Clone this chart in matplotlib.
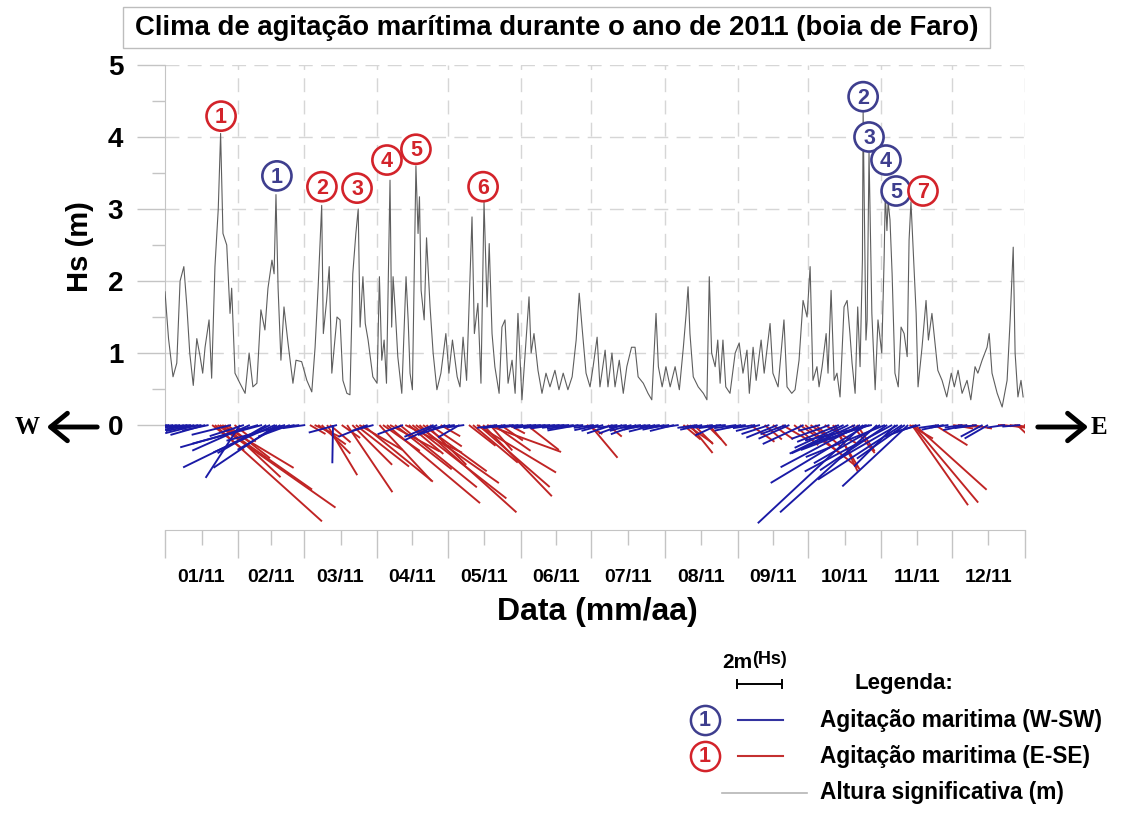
import numpy as np
import matplotlib
matplotlib.use('Agg')
import matplotlib.pyplot as plt
from matplotlib.patches import Rectangle, FancyArrowPatch
from matplotlib.lines import Line2D

plt.rcParams['font.family'] = ['Liberation Sans', 'DejaVu Sans']

# significant wave height (day of year 2011, m)
hs_day = [0, 1.5, 3.4, 5, 6.4, 8, 9.3, 10.5, 12, 13.5, 14.9, 16, 17, 18.7, 19.8, 21.2, 22.6, 23.6, 24.6,
          26.2, 27.6, 28.3, 29.7, 31.8, 34, 35.7, 37.3, 39, 40.7, 42.4, 43.7, 45.4, 46.3, 47.1, 48, 49.2,
          50.5, 52.2, 54.3, 55.6, 58, 60.2, 62.3, 63.7, 65, 66.5, 67.2, 68.6, 69.7, 70.8, 73, 74.3, 75.5,
          77.2, 78.5, 79.7, 81, 82, 82.8, 84, 85, 86.2, 88.2, 90, 91, 92, 93, 94, 95.5, 96.2, 96.8, 97.8,
          98.8, 100.5, 102.3, 103.2, 104, 105, 105.8, 106.5, 107.4, 108.0, 108.7, 110, 111, 112.5, 113.8,
          115.4, 117.1, 119.2, 120.5, 122, 124, 125.2, 126.5, 128, 130.3, 131.3, 132.8, 134.1, 135.4,
          136.7, 137.6, 138.8, 140, 141.8, 143, 144.3, 145.6, 147.3, 148.6, 149.8, 151.5, 153.6, 154.5,
          155.4, 156.6, 158.3, 160, 161.7, 163.4, 165.5, 167.2, 169, 171, 172.8, 174.5, 175.8, 177, 178.7,
          180.4, 181.7, 183.4, 184.6, 186.8, 188, 189.7, 191, 192.8, 194.5, 196, 198, 199.5, 200.8, 203,
          205, 206.6, 208.4, 209.4, 211, 212.6, 214.4, 216.5, 218.3, 220, 221.2, 222, 222.8, 224.2, 226.3,
          228.5, 230, 231, 232, 233.5, 234.6, 235.6, 236.8, 238, 239.8, 242, 243.7, 245.3, 247, 248,
          249.6, 250.9, 253, 254.3, 256.8, 258, 260.2, 262.7, 264, 266, 267.4, 269.1, 270.8, 272.5, 273.8,
          275, 276.7, 277.6, 278.9, 280.6, 281.4, 282.7, 284, 285.2, 286.5, 288.2, 289.5, 290.7, 291.6,
          292.9, 294, 295, 296, 296.3, 297.5, 298, 298.8, 300, 301.4, 302.6, 304.2, 305.2, 305.7, 306.4,
          306.9, 307.7, 308.6, 309.8, 311.2, 312.4, 313.7, 315, 315.8, 316.6, 317.5, 318.8, 319.6, 321.3,
          323, 324, 325.5, 326.8, 328, 329.8, 331.8, 333.7, 335, 336.6, 338.3, 340.4, 342, 343.8, 345,
          346.8, 348.9, 349.8, 351, 353.2, 355.3, 357.4, 358.7, 360, 360.8, 362, 363.3, 364.2]
hs_val = [1.85, 1.2, 0.67, 0.86, 2.0, 2.2, 1.64, 1.0, 0.55, 1.2, 0.95, 0.72, 1.08, 1.46, 0.65, 2.2, 3.0, 4.05,
          2.66, 2.5, 1.55, 1.9, 0.72, 0.58, 0.44, 1.0, 0.53, 0.58, 1.6, 1.32, 1.9, 2.29, 2.1, 3.2, 1.9, 0.9,
          1.64, 1.14, 0.58, 0.9, 0.88, 0.62, 0.46, 1.08, 1.92, 3.05, 1.27, 1.73, 2.2, 0.72, 1.5, 1.46, 0.62,
          0.44, 0.42, 2.1, 2.66, 3.0, 1.36, 2.06, 1.41, 1.18, 0.67, 0.58, 2.06, 0.9, 1.18, 0.58, 3.4, 1.36,
          2.06, 1.55, 0.95, 0.44, 2.06, 1.46, 0.72, 0.49, 2.1, 3.6, 2.66, 3.17, 1.87, 1.46, 2.6, 1.64, 1.0,
          0.49, 0.72, 1.27, 0.72, 1.18, 0.67, 0.53, 1.22, 0.62, 2.89, 1.27, 1.69, 0.58, 3.1,
          1.64, 2.52, 1.27, 0.81, 0.44, 1.36, 1.46, 0.58, 0.9, 0.44, 1.55, 0.35, 1.36, 1.78,
          1.0, 1.27, 0.76, 0.44, 0.72, 0.53, 0.76, 0.49, 0.72, 0.49, 0.67, 1.18, 1.83, 1.36, 0.72,
          0.53, 0.81, 1.22, 0.53, 1.04, 0.53, 1.0, 0.53, 0.9, 0.44, 0.81, 1.08, 1.08, 0.67, 0.58,
          0.44, 0.35, 1.55, 0.81, 0.53, 0.81, 0.53, 0.81, 0.49, 1.08, 1.55, 1.92, 1.27, 0.67, 0.53,
          0.44, 0.35, 2.06, 1.0, 0.81, 1.18, 0.58, 1.18, 0.53, 0.44, 1.0, 1.14, 0.72, 1.04, 0.44,
          1.08, 0.62, 1.18, 0.72, 1.41, 0.72, 0.53, 1.46, 0.53, 0.44, 0.49, 0.9, 1.73, 1.5, 2.2,
          0.62, 0.81, 0.53, 0.81, 1.27, 0.72, 1.87, 0.62, 0.72, 0.39, 1.64, 1.73, 1.27, 0.86,
          0.44, 1.64, 0.81, 2.3, 4.35, 1.18, 1.46, 3.78, 1.55, 0.49, 1.46, 1.0, 2.3, 3.2, 2.7,
          3.1, 2.85, 2.1, 0.72, 0.53, 1.36, 1.27, 0.95, 2.57, 3.1, 2.47, 1.55, 0.53, 1.08,
          1.73, 1.18, 1.55, 1.14, 0.76, 0.62, 0.39, 0.72, 0.53, 0.76, 0.44, 0.62, 0.35, 0.81, 0.72,
          0.9, 1.08, 1.27, 0.72, 0.44, 0.25, 0.62, 1.46, 2.47, 1.0, 0.39, 0.62, 0.39]

# wave sticks: day, length (m, legend scale), direction (deg, >180 = W-SW)
stick_day = [0.8, 1.8, 3.5, 5.0, 6.5, 8.0, 9.5, 11.0, 12.5, 14.0, 15.5, 17.0, 18.5, 20.0, 21.2, 22.3, 23.3,
             24.3, 25.3, 26.5, 28.0, 29.5,
             31.8, 33.5, 36.0, 39.5, 41.2, 43.0, 44.6, 46.7, 47.5, 49.0, 51.0, 53.0, 55.0, 57.0,
             59.5, 61.5, 63.5, 65.0, 66.5, 68.8, 70.0, 71.3, 73.0, 75.0, 77.3, 79.5, 81.0, 82.5, 84.0, 86.0, 88.5,
             91.0, 92.5, 94.2, 95.5, 97.6, 99.7, 101.0, 102.0, 103.5, 105.0, 106.5, 108.0, 109.5, 111.0, 112.5,
             114.0, 115.5, 117.0, 119.0,
             121.0, 123.0, 125.0, 127.0, 129.0, 130.7, 132.4, 133.0, 135.0, 136.7, 138.0, 139.5, 141.0, 142.5,
             144.5, 146.0, 148.0, 150.0,
             152.0, 153.6, 155.5, 157.5, 159.5, 161.5, 163.5, 165.5, 167.5, 169.5, 171.5, 173.5, 175.5, 177.5,
             179.0, 180.4,
             182.0, 184.0, 186.0, 188.0, 190.0, 192.0, 194.0, 196.0, 198.0, 200.0, 202.0, 204.0, 206.0, 208.0, 210.0,
             212.0, 214.0, 216.0, 218.0, 220.0, 221.5, 222.8, 224.5, 226.0, 228.0, 230.0, 231.0, 232.5, 234.5,
             236.0, 238.0,
             242.5, 244.5, 246.5, 248.5, 250.5, 252.5, 254.5, 256.5, 258.0, 260.0, 262.0, 263.5, 265.0, 267.0,
             269.5, 271.0, 271.7,
             274.0, 276.0, 278.0, 280.0, 282.0, 283.5, 284.4, 286.0, 288.0, 290.0, 291.6, 292.9, 293.7, 295.0,
             296.3, 297.5, 298.0, 299.0, 300.0, 302.2, 303.5,
             305.6, 306.5, 308.6, 310.0, 311.0, 312.8, 314.0, 315.4, 316.0, 317.0, 317.5, 318.2, 319.0, 320.5,
             326.8, 328.5, 330.5, 332.5,
             334.5, 336.5, 338.5, 340.5, 342.5, 344.5, 347.0, 349.3, 353.5, 354.5, 356.5, 358.5, 360.5, 361.6,
             363.0, 364.5]
stick_hs = [2.3, 2.7, 1.2, 1.4, 1.8, 2.0, 1.6, 1.0, 1.3, 1.5, 1.0, 1.6, 1.2, 1.8, 6.4, 6.4, 5.0,
            3.7, 3.4, 2.4, 1.8, 1.2,
            2.8, 1.6, 2.8, 3.6, 3.2, 2.5, 4.3, 3.0, 3.4, 2.2, 2.7, 1.5, 1.2, 1.0,
            1.0, 0.8, 1.2, 1.5, 1.8, 2.6, 1.2, 1.7, 1.3, 1.0, 3.6, 2.5, 3.0, 2.2, 4.0, 1.4, 1.0,
            3.4, 2.0, 5.4, 2.5, 3.2, 4.4, 1.2, 2.8, 2.0, 5.3, 4.5, 5.8, 3.5, 2.5, 1.7,
            1.4, 1.6, 1.0, 1.3,
            0.8, 1.0, 1.1, 0.8, 1.5, 2.6, 4.1, 4.2, 4.4, 3.5, 1.5, 2.0, 0.9, 1.2,
            1.0, 0.8, 1.0, 0.9,
            0.8, 1.8, 0.9, 1.0, 0.8, 1.0, 0.9, 1.1, 0.8, 1.0, 0.9, 1.2, 1.4, 1.0,
            0.8, 1.9,
            0.9, 1.1, 1.0, 0.8, 1.2, 0.9, 1.1, 0.8, 1.0, 1.2, 0.9, 1.0, 0.8, 1.2, 0.9,
            1.0, 0.9, 1.1, 0.8, 1.0, 1.4, 1.6, 1.2, 0.9, 1.0, 0.9, 1.2, 0.9, 1.1,
            1.0, 0.7,
            1.0, 1.2, 0.9, 1.3, 1.0, 1.1, 1.0, 1.3, 1.1, 1.5, 1.3, 1.2, 1.5, 1.4,
            2.2, 2.0, 3.0,
            1.2, 1.5, 1.0, 1.6, 1.8, 2.3, 2.3, 2.0, 2.4, 2.9, 1.6, 3.1, 1.4, 4.0,
            6.4, 3.1, 5.0, 2.5, 3.05, 5.8, 3.4,
            3.8, 3.6, 4.4, 2.6, 3.0, 4.45, 2.6, 4.0, 1.2, 4.35, 4.5, 4.3, 1.5, 1.2,
            1.7, 0.9, 1.0, 0.8,
            0.9, 1.0, 0.8, 1.1, 0.9, 1.0, 1.1, 1.2, 0.6, 0.9, 0.8, 1.0, 0.9, 3.4,
            0.8, 0.7]
stick_dir = [250, 262, 262, 258, 262, 256, 258, 264, 258, 256, 262, 254, 258, 128, 132, 125, 125,
             121, 133, 128, 256, 128,
             213, 252, 246, 254, 255, 240, 244, 246, 236, 240, 255, 250, 258, 262,
             262, 120, 115, 125, 135, 149, 130, 181, 255, 125, 146, 135, 128, 120, 129, 248, 255,
             137, 125, 130, 118, 128, 129, 250, 116, 130, 128, 125, 132, 126, 135, 124,
             248, 245, 120, 250,
             255, 262, 240, 262, 128, 130, 121, 131, 136, 110, 139, 125, 262, 125,
             262, 118, 265, 262,
             265, 128, 265, 262, 266, 262, 266, 262, 265, 263, 266, 262, 260, 264,
             120, 140,
             262, 258, 255, 130, 252, 262, 250, 262, 255, 250, 262, 258, 262, 256, 262,
             258, 262, 256, 262, 130, 125, 141, 135, 262, 258, 135, 140, 262, 245,
             262, 265,
             262, 258, 262, 125, 262, 256, 130, 252, 125, 248, 120, 250, 246, 130,
             125, 245, 129,
             125, 130, 255, 120, 250, 149, 154, 248, 245, 244, 141, 246, 146, 242,
             227, 249, 239, 252, 257, 228, 240,
             248, 236, 242, 225, 240, 237, 235, 227, 120, 145, 140, 132, 250, 255,
             122, 262, 258, 262,
             100, 95, 262, 258, 100, 262, 242, 240, 95, 95, 262, 100, 98, 133,
             265, 100]

# numbered storm markers
circ_day = [23.8, 47.5, 66.6, 81.5, 94.2, 106.5, 135.0, 296.3, 298.8, 306.0, 310.3, 321.7]
circ_hs = [4.29, 3.46, 3.31, 3.29, 3.68, 3.83, 3.31, 4.56, 4.0, 3.68, 3.25, 3.25]
circ_num = ['1', '1', '2', '3', '4', '5', '6', '2', '3', '4', '5', '7']
circ_side = ['E', 'W', 'E', 'E', 'E', 'E', 'E', 'W', 'W', 'W', 'W', 'E']

month_start = [0, 31, 59, 90, 120, 151, 181, 212, 243, 273, 304, 334, 365]
month_lbl = ['01/11', '02/11', '03/11', '04/11', '05/11', '06/11',
             '07/11', '08/11', '09/11', '10/11', '11/11', '12/11']

RED = '#c02424'
BLUE = '#1a1aa6'
RED_C = '#d3232a'
BLUE_C = '#3e3e8e'
GRID = '#d6d6d6'
AXC = '#c4c4c4'
STICK_PX = 22.5   # px per metre for the sticks (legend: 2 m bar)

W, H = 1121, 816
fig = plt.figure(figsize=(W / 100, H / 100), dpi=100)


def fx(px):
    return px / W


def fy(py):
    return 1 - py / H


ax = fig.add_axes([fx(165), fy(530), fx(1025) - fx(165), fy(65) - fy(530)])
ax.set_xlim(0, 365)
ax.set_ylim(-1.458, 5)

for s in ['top', 'right']:
    ax.spines[s].set_visible(False)
ax.spines['left'].set_bounds(0, 5)
ax.spines['left'].set_color(AXC)
ax.spines['bottom'].set_color(AXC)

# y axis
ax.set_yticks(range(6))
ax.set_yticks([0.5, 1.5, 2.5, 3.5, 4.5], minor=True)
ax.set_yticklabels([str(i) for i in range(6)], fontsize=20, fontweight='bold')
ax.tick_params(axis='y', which='major', length=20, width=1, color=AXC, pad=10)
ax.tick_params(axis='y', which='minor', length=9.5, width=1, color=AXC)

# x axis: month boundaries + mid-month labels
mids = [(month_start[i] + month_start[i + 1]) / 2 for i in range(12)]
ax.set_xticks(month_start)
ax.set_xticklabels([])
ax.set_xticks(mids, minor=True)
ax.set_xticklabels(month_lbl, minor=True, fontsize=14, fontweight='bold')
ax.tick_params(axis='x', which='major', length=20, width=1, color=AXC)
ax.tick_params(axis='x', which='minor', length=11, width=1, color=AXC, pad=17)

# dashed grid only in the Hs part
ax.hlines(range(1, 6), 0, 365, colors=GRID, linestyles=(0, (10, 6)), lw=1, zorder=1)
ax.vlines(month_start[1:], 0, 5, colors=GRID, linestyles=(0, (10, 6)), lw=1, zorder=1)

# Hs series
ax.plot(hs_day, hs_val, color='#5e5e5e', lw=0.8, zorder=3)

# direction sticks
sd = np.array(stick_day)
sh = np.array(stick_hs)
ang = np.radians(stick_dir)
cols = [BLUE if d > 180 else RED for d in stick_dir]
ax.quiver(sd, np.zeros_like(sd), sh * np.sin(ang), sh * np.cos(ang), color=cols,
          angles='uv', scale_units='dots', scale=1 / STICK_PX, units='dots', width=1.9,
          headwidth=0, headlength=0, headaxislength=0, pivot='tail', zorder=4)

# numbered circles
ccols = [BLUE_C if s == 'W' else RED_C for s in circ_side]
ax.scatter(circ_day, circ_hs, s=440, facecolor='white', edgecolor=ccols, lw=1.9, zorder=6)
for d, h, n, c in zip(circ_day, circ_hs, circ_num, ccols):
    ax.text(d, h - 0.02, n, ha='center', va='center', color=c, fontsize=15.5,
            fontweight='bold', zorder=7)

# labels
fig.text(fx(80), fy(247), 'Hs (m)', rotation=90, ha='center', va='center',
         fontsize=21, fontweight='bold')
fig.text(fx(597), fy(612), 'Data (mm/aa)', ha='center', va='center',
         fontsize=23, fontweight='bold')

# title box
fig.add_artist(Rectangle((fx(123), fy(48)), fx(990) - fx(123), fy(7) - fy(48),
                         transform=fig.transFigure, fc='white', ec='#bdbdbd', lw=1))
fig.text(fx(557), fy(28), 'Clima de agitação marítima durante o ano de 2011 (boia de Faro)',
         ha='center', va='center', fontsize=19.8, fontweight='bold')

# W / E arrows
for x0, x1, lab, xt in [(100, 44, 'W', 27), (1035, 1091, 'E', 1099)]:
    fig.add_artist(FancyArrowPatch((fx(x0), fy(427)), (fx(x1), fy(427)), transform=fig.transFigure,
                                   arrowstyle='->,head_length=0.55,head_width=0.45',
                                   mutation_scale=22, lw=3.5, color='black'))
    fig.text(fx(xt), fy(428), lab, ha='center', va='center', fontsize=18, fontweight='bold',
             family=['Liberation Serif', 'DejaVu Serif'])

# legend
bar_px = 2 * STICK_PX
bx0 = 737
fig.add_artist(Line2D([fx(bx0), fx(bx0 + bar_px)], [fy(684), fy(684)], color='black', lw=1.4))
for xb in [bx0, bx0 + bar_px]:
    fig.add_artist(Line2D([fx(xb), fx(xb)], [fy(680), fy(688)], color='black', lw=1.4))
fig.text(fx(722), fy(663), '2m', ha='left', va='center', fontsize=15, fontweight='bold')
fig.text(fx(752), fy(660), '(Hs)', ha='left', va='center', fontsize=13, fontweight='bold')
fig.text(fx(855), fy(683), 'Legenda:', ha='left', va='center', fontsize=16, fontweight='bold')

rows = [(720, BLUE_C, '#3333a0', 'Agitação maritima (W-SW)'),
        (756, RED_C, '#c43030', 'Agitação maritima (E-SE)')]
for yy, cc, lc, txt in rows:
    fig.add_artist(Line2D([fx(705)], [fy(yy)], marker='o', markersize=21, mfc='white',
                          mec=cc, mew=1.8, ls='none'))
    fig.text(fx(705), fy(yy + 1), '1', ha='center', va='center', color=cc, fontsize=15.5,
             fontweight='bold')
    fig.add_artist(Line2D([fx(738), fx(783)], [fy(yy), fy(yy)], color=lc, lw=1.5))
    fig.text(fx(820), fy(yy), txt, ha='left', va='center', fontsize=16.3, fontweight='bold')
fig.add_artist(Line2D([fx(722), fx(807)], [fy(793), fy(793)], color='#b5b5b5', lw=1.2))
fig.text(fx(820), fy(793), 'Altura significativa (m)', ha='left', va='center',
         fontsize=16.3, fontweight='bold')

fig.savefig('out.png', dpi=100)
